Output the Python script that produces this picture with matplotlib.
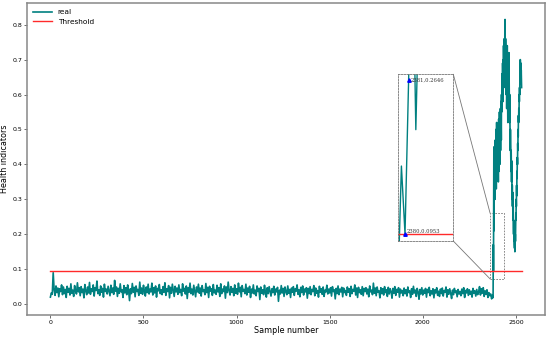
import numpy as np
import matplotlib
matplotlib.use('Agg')
import matplotlib.pyplot as plt
from matplotlib.patches import Rectangle, ConnectionPatch

# health indicator, every 5th sample of the stable part (0..2375)
hi_flat = [
    0.020, 0.032, 0.028, 0.090, 0.041, 0.025, 0.052, 0.033, 0.046, 0.021, 0.044, 0.036, 0.055, 0.027, 0.049, 0.030, 0.042, 0.019, 0.051, 0.034,
    0.045, 0.026, 0.058, 0.031, 0.040, 0.022, 0.053, 0.037, 0.029, 0.061, 0.035, 0.047, 0.024, 0.050, 0.033, 0.043, 0.018, 0.056, 0.038, 0.027,
    0.049, 0.032, 0.062, 0.028, 0.044, 0.036, 0.055, 0.023, 0.047, 0.039, 0.066, 0.030, 0.041, 0.025, 0.052, 0.034, 0.045, 0.020, 0.057, 0.036,
    0.043, 0.029, 0.051, 0.038, 0.024, 0.054, 0.033, 0.046, 0.028, 0.068, 0.037, 0.049, 0.022, 0.045, 0.031, 0.058, 0.035, 0.041, 0.019, 0.053,
    0.032, 0.047, 0.027, 0.055, 0.039, 0.010, 0.044, 0.030, 0.059, 0.034, 0.048, 0.021, 0.052, 0.036, 0.042, 0.025, 0.063, 0.031, 0.046, 0.028,
    0.054, 0.037, 0.023, 0.049, 0.033, 0.057, 0.029, 0.043, 0.035, 0.060, 0.026, 0.047, 0.032, 0.052, 0.020, 0.045, 0.038, 0.056, 0.030, 0.041,
    0.027, 0.050, 0.034, 0.061, 0.025, 0.044, 0.036, 0.053, 0.018, 0.048, 0.031, 0.057, 0.039, 0.022, 0.051, 0.035, 0.046, 0.028, 0.055, 0.033,
    0.042, 0.024, 0.058, 0.037, 0.045, 0.029, 0.052, 0.016, 0.047, 0.034, 0.060, 0.030, 0.043, 0.026, 0.054, 0.038, 0.021, 0.049, 0.035, 0.057,
    0.031, 0.046, 0.023, 0.053, 0.036, 0.041, 0.027, 0.059, 0.033, 0.048, 0.019, 0.051, 0.037, 0.044, 0.025, 0.056, 0.032, 0.040, 0.028, 0.054,
    0.035, 0.047, 0.022, 0.058, 0.030, 0.043, 0.036, 0.052, 0.017, 0.049, 0.033, 0.063, 0.039, 0.026, 0.050, 0.034, 0.045, 0.024, 0.055, 0.031,
    0.044, 0.028, 0.060, 0.035, 0.048, 0.021, 0.053, 0.037, 0.042, 0.030, 0.057, 0.026, 0.046, 0.034, 0.051, 0.019, 0.043, 0.032, 0.055, 0.029,
    0.040, 0.024, 0.052, 0.036, 0.045, 0.013, 0.049, 0.031, 0.041, 0.027, 0.054, 0.034, 0.020, 0.047, 0.030, 0.050, 0.037, 0.023, 0.044, 0.033,
    0.051, 0.026, 0.043, 0.035, 0.048, 0.008, 0.040, 0.029, 0.053, 0.032, 0.045, 0.022, 0.049, 0.036, 0.027, 0.052, 0.031, 0.042, 0.019, 0.046,
    0.034, 0.050, 0.025, 0.044, 0.037, 0.055, 0.028, 0.041, 0.021, 0.048, 0.033, 0.052, 0.026, 0.043, 0.035, 0.047, 0.017, 0.045, 0.030, 0.050,
    0.027, 0.042, 0.036, 0.053, 0.024, 0.046, 0.031, 0.039, 0.020, 0.051, 0.034, 0.044, 0.028, 0.049, 0.022, 0.040, 0.035, 0.054, 0.029, 0.043,
    0.032, 0.047, 0.023, 0.050, 0.036, 0.041, 0.015, 0.045, 0.030, 0.052, 0.027, 0.043, 0.035, 0.048, 0.021, 0.046, 0.033, 0.039, 0.025, 0.049,
    0.034, 0.044, 0.022, 0.051, 0.030, 0.042, 0.037, 0.055, 0.026, 0.046, 0.019, 0.048, 0.033, 0.041, 0.028, 0.050, 0.024, 0.045, 0.036, 0.047,
    0.029, 0.043, 0.021, 0.052, 0.035, 0.040, 0.027, 0.060, 0.031, 0.046, 0.024, 0.049, 0.034, 0.038, 0.018, 0.047, 0.030, 0.044, 0.026, 0.050,
    0.033, 0.041, 0.022, 0.048, 0.029, 0.044, 0.036, 0.017, 0.045, 0.031, 0.050, 0.025, 0.042, 0.034, 0.047, 0.020, 0.043, 0.032, 0.039, 0.024,
    0.046, 0.030, 0.041, 0.023, 0.049, 0.033, 0.038, 0.019, 0.044, 0.028, 0.051, 0.032, 0.040, 0.022, 0.045, 0.035, 0.014, 0.042, 0.029, 0.047,
    0.026, 0.040, 0.031, 0.045, 0.020, 0.042, 0.033, 0.048, 0.024, 0.038, 0.029, 0.044, 0.018, 0.041, 0.032, 0.047, 0.025, 0.037, 0.022, 0.043,
    0.030, 0.046, 0.023, 0.039, 0.034, 0.049, 0.020, 0.041, 0.028, 0.044, 0.031, 0.016, 0.040, 0.027, 0.045, 0.033, 0.038, 0.021, 0.042, 0.029,
    0.036, 0.024, 0.043, 0.030, 0.047, 0.019, 0.039, 0.032, 0.044, 0.025, 0.041, 0.028, 0.037, 0.020, 0.045, 0.031, 0.038, 0.023, 0.042, 0.027,
    0.034, 0.050, 0.026, 0.044, 0.031, 0.047, 0.022, 0.038, 0.028, 0.041, 0.019, 0.033, 0.024, 0.029, 0.015, 0.025,
]

# degradation part, every sample from 2376 to 2531
hi_tail = [
    0.022, 0.018, 0.030, 0.170, 0.0953, 0.2646, 0.450, 0.210, 0.380, 0.310,
    0.440, 0.360, 0.300, 0.410, 0.470, 0.350, 0.430, 0.500, 0.380, 0.330,
    0.460, 0.520, 0.410, 0.360, 0.480, 0.440, 0.390, 0.510, 0.470, 0.400,
    0.350, 0.450, 0.530, 0.420, 0.380, 0.490, 0.550, 0.460, 0.400, 0.520,
    0.480, 0.560, 0.440, 0.500, 0.580, 0.520, 0.470, 0.600, 0.550, 0.620,
    0.580, 0.660, 0.600, 0.690, 0.640, 0.580, 0.700, 0.660, 0.740, 0.680,
    0.620, 0.720, 0.760, 0.700, 0.650, 0.780, 0.815, 0.730, 0.680, 0.760,
    0.700, 0.640, 0.600, 0.720, 0.680, 0.560, 0.620, 0.700, 0.740, 0.660,
    0.580, 0.520, 0.640, 0.700, 0.620, 0.560, 0.680, 0.720, 0.640, 0.580,
    0.520, 0.600, 0.550, 0.480, 0.440, 0.500, 0.460, 0.420, 0.380, 0.440,
    0.400, 0.350, 0.410, 0.360, 0.300, 0.340, 0.280, 0.320, 0.260, 0.240,
    0.280, 0.220, 0.200, 0.240, 0.180, 0.200, 0.170, 0.160, 0.190, 0.150,
    0.170, 0.200, 0.180, 0.230, 0.260, 0.240, 0.300, 0.280, 0.340, 0.310,
    0.380, 0.360, 0.420, 0.400, 0.460, 0.440, 0.500, 0.480, 0.540, 0.520,
    0.560, 0.530, 0.600, 0.580, 0.620, 0.600, 0.660, 0.640, 0.700, 0.680,
    0.650, 0.690, 0.630, 0.670, 0.640, 0.620,
]

threshold = 0.0953
pts = [(2380, 0.0953), (2381, 0.2646)]
box = (2362, 2435, 0.072, 0.26)  # x0, x1, y0, y1 of the zoom mark

x = np.concatenate([np.arange(0, 2376, 5), 2376 + np.arange(len(hi_tail))])
y = np.array(hi_flat + hi_tail)

fig = plt.figure(figsize=(5.5, 3.39), dpi=100)
ax = fig.add_axes([0.049, 0.071, 0.942, 0.920])

ax.plot(x, y, color='#008080', lw=1.2, label='real')
ax.plot([0, x[-1]], [threshold, threshold], color='#ff2a2a', lw=1.0, label='Threshold')

ax.set_xlim(-126, 2657)
ax.set_ylim(-0.031, 0.862)
ax.set_xlabel('Sample number', fontsize=5.8, labelpad=1)
ax.set_ylabel('Health indicators', fontsize=5.8, labelpad=2)
ax.tick_params(labelsize=4.5, length=2, width=0.6, color='#555555', pad=1.5)
for s in ax.spines.values():
    s.set_color('#888888')
    s.set_linewidth(1.1)
ax.legend(loc='upper left', frameon=False, fontsize=5.3, handlelength=2.6,
          borderaxespad=0.4, labelspacing=0.5)

# zoom mark in the main axes
ax.add_patch(Rectangle((box[0], box[2]), box[1] - box[0], box[3] - box[2],
                       fill=False, ls=(0, (2, 1.5)), ec='#777777', lw=0.6))

# inset
axin = fig.add_axes([0.7242, 0.289, 0.100, 0.492])
axin.plot(x, y, color='#008080', lw=1.0)
axin.axhline(threshold, color='#ff2a2a', lw=1.0)
axin.set_xlim(2378.14, 2393.4)
axin.set_ylim(0.0876, 0.2709)
axin.set_xticks([])
axin.set_yticks([])
for s in axin.spines.values():
    s.set_linestyle((0, (2, 1.5)))
    s.set_color('#777777')
    s.set_linewidth(0.6)
for px, py in pts:
    axin.plot(px, py, marker='^', color='blue', ms=2.5)
axin.annotate('%d,%.4f' % pts[0], pts[0], xytext=(1.5, 0.5), textcoords='offset points',
              fontsize=3.8, family='DejaVu Serif', va='bottom', color='#333333')
axin.annotate('%d,%.4f' % pts[1], pts[1], xytext=(1.5, 0), textcoords='offset points',
              fontsize=3.8, family='DejaVu Serif', va='center', color='#333333')

for ya, yb in [(1, box[3]), (0, box[2])]:
    con = ConnectionPatch(xyA=(1, ya), coordsA=axin.transAxes,
                          xyB=(box[0], yb), coordsB=ax.transData,
                          color='#777777', lw=0.6)
    fig.add_artist(con)

fig.savefig('out.png', dpi=100)
